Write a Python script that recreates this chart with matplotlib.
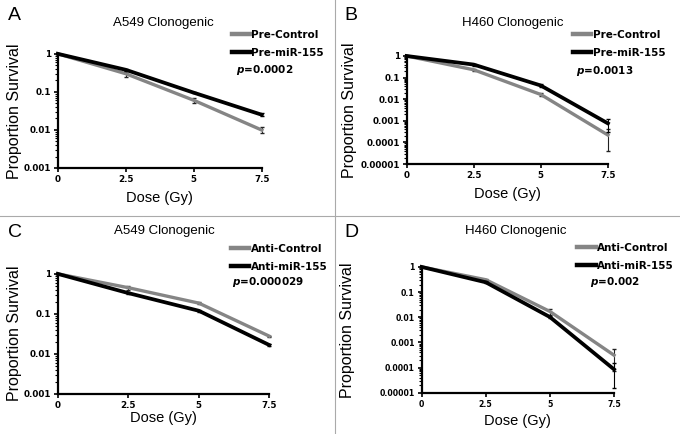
import numpy as np
import matplotlib.pyplot as plt
from matplotlib.lines import Line2D

dose = [0, 2.5, 5, 7.5]

# panel A - A549, pre-miR
a_ctrl = [1, 0.30, 0.060, 0.0099]
a_ctrl_err = [0, 0.05, 0.008, 0.0018]
a_mir = [1, 0.38, 0.095, 0.025]
a_mir_err = [0, 0.03, 0.004, 0.002]

# panel B - H460, pre-miR
b_ctrl = [1, 0.23, 0.0165, 0.00022]
b_ctrl_err = [0, 0.03, 0.002, 0.00018]
b_mir = [1, 0.40, 0.043, 0.00076]
b_mir_err = [0, 0.04, 0.006, 0.00044]

# panel C - A549, anti-miR
c_ctrl = [1, 0.45, 0.185, 0.0275]
c_ctrl_err = [0, 0.05, 0.01, 0.001]
c_mir = [1, 0.33, 0.119, 0.0165]
c_mir_err = [0, 0.02, 0.008, 0.001]

# panel D - H460, anti-miR
d_ctrl = [1, 0.31, 0.017, 0.00031]
d_ctrl_err = [0, 0.02, 0.005, 0.00024]
d_mir = [1, 0.245, 0.0102, 0.000085]
d_mir_err = [0, 0.02, 0.001, 0.00007]

GRAY = "#858585"
HELV = "Liberation Sans"

fig = plt.figure(figsize=(6.8, 4.34), dpi=100)

panels = [
    # letter, title, labels, ctrl, ctrl_err, mir, mir_err, p, ymin, axes rect,
    # title xy, legend xy, p xy, ylabel x, letter xy, tick size, xlabel pad
    ("A", "A549 Clonogenic", ("Pre-Control", "Pre-miR-155"), a_ctrl, a_ctrl_err, a_mir, a_mir_err,
     "0.0002", 1e-3, [0.085, 0.613, 0.300, 0.263],
     (0.240, 0.948), (0.341, 0.931), (0.347, 0.839), 0.033, (0.012, 0.965), 6.3, 5),
    ("B", "H460 Clonogenic", ("Pre-Control", "Pre-miR-155"), b_ctrl, b_ctrl_err, b_mir, b_mir_err,
     "0.0013", 1e-5, [0.598, 0.622, 0.296, 0.249],
     (0.754, 0.947), (0.843, 0.931), (0.847, 0.836), 0.525, (0.507, 0.965), 6.3, 5),
    ("C", "A549 Clonogenic", ("Anti-Control", "Anti-miR-155"), c_ctrl, c_ctrl_err, c_mir, c_mir_err,
     "0.000029", 1e-3, [0.085, 0.093, 0.311, 0.276],
     (0.242, 0.468), (0.340, 0.438), (0.341, 0.350), 0.033, (0.012, 0.465), 6.3, 1),
    ("D", "H460 Clonogenic", ("Anti-Control", "Anti-miR-155"), d_ctrl, d_ctrl_err, d_mir, d_mir_err,
     "0.002", 1e-5, [0.620, 0.095, 0.283, 0.290],
     (0.759, 0.468), (0.849, 0.440), (0.868, 0.350), 0.522, (0.507, 0.465), 5.6, 4),
]

for (letter, title, labels, ctrl, ctrl_err, mir, mir_err, p, ymin, rect,
     txy, lxy, pxy, ylx, letxy, tsize, xpad) in panels:
    ax = fig.add_axes(rect)
    for vals, errs, col, lw in [(ctrl, ctrl_err, GRAY, 2.4), (mir, mir_err, "black", 2.7)]:
        cont = ax.errorbar(dose, vals, yerr=errs, color=col, lw=lw, elinewidth=0.8,
                           capsize=1.5, ecolor="#222222" if col == GRAY else "black",
                           zorder=2 if col == GRAY else 3)
        for art in cont.get_children():
            art.set_clip_on(False)
    ax.set_yscale("log")
    ax.set_xlim(0, 7.5)
    ax.set_ylim(ymin, 1)
    ax.set_xticks(dose)
    ax.set_xticklabels(["0", "2.5", "5", "7.5"])
    decades = np.logspace(np.log10(ymin), 0, int(round(-np.log10(ymin))) + 1)
    ax.set_yticks(decades)
    ax.set_yticklabels([("%.5f" % v).rstrip("0").rstrip(".") if v < 1 else "1" for v in decades])
    for s in ["top", "right"]:
        ax.spines[s].set_visible(False)
    for s in ["left", "bottom"]:
        ax.spines[s].set_linewidth(1.6)
    ax.tick_params(axis="both", which="major", labelsize=tsize, width=1.2, length=3, pad=2)
    ax.tick_params(axis="y", which="minor", width=0.8, length=2)
    for lab in ax.get_xticklabels() + ax.get_yticklabels():
        lab.set_fontweight("bold")
    ax.set_xlabel("Dose (Gy)", fontsize=10.5, family=HELV, labelpad=xpad)
    ax.set_ylabel("Proportion Survival", fontsize=11.5, family=HELV)
    ax.yaxis.set_label_coords(ylx, rect[1] + rect[3] / 2, transform=fig.transFigure)

    fig.text(txy[0], txy[1], title, ha="center", va="center", fontsize=9.5, family=HELV)
    handles = [Line2D([], [], color=GRAY, lw=3.2), Line2D([], [], color="black", lw=3.2)]
    fig.legend(handles, labels, loc="upper left", bbox_to_anchor=lxy,
               frameon=False, prop={"weight": "bold", "size": 7.5}, handlelength=1.75,
               handletextpad=0.1, labelspacing=0.75, borderaxespad=0, borderpad=0)
    fig.text(pxy[0], pxy[1], "$\\boldsymbol{p}$=" + p, fontsize=7.5, fontweight="bold",
             va="center")
    fig.text(letxy[0], letxy[1], letter, fontsize=14, va="center", family=HELV)

# separators
fig.add_artist(Line2D([0.493, 0.493], [0, 1], color="#aaaaaa", lw=0.8))
fig.add_artist(Line2D([0, 1], [0.502, 0.502], color="#aaaaaa", lw=0.8))

fig.savefig("out.png", dpi=100)
